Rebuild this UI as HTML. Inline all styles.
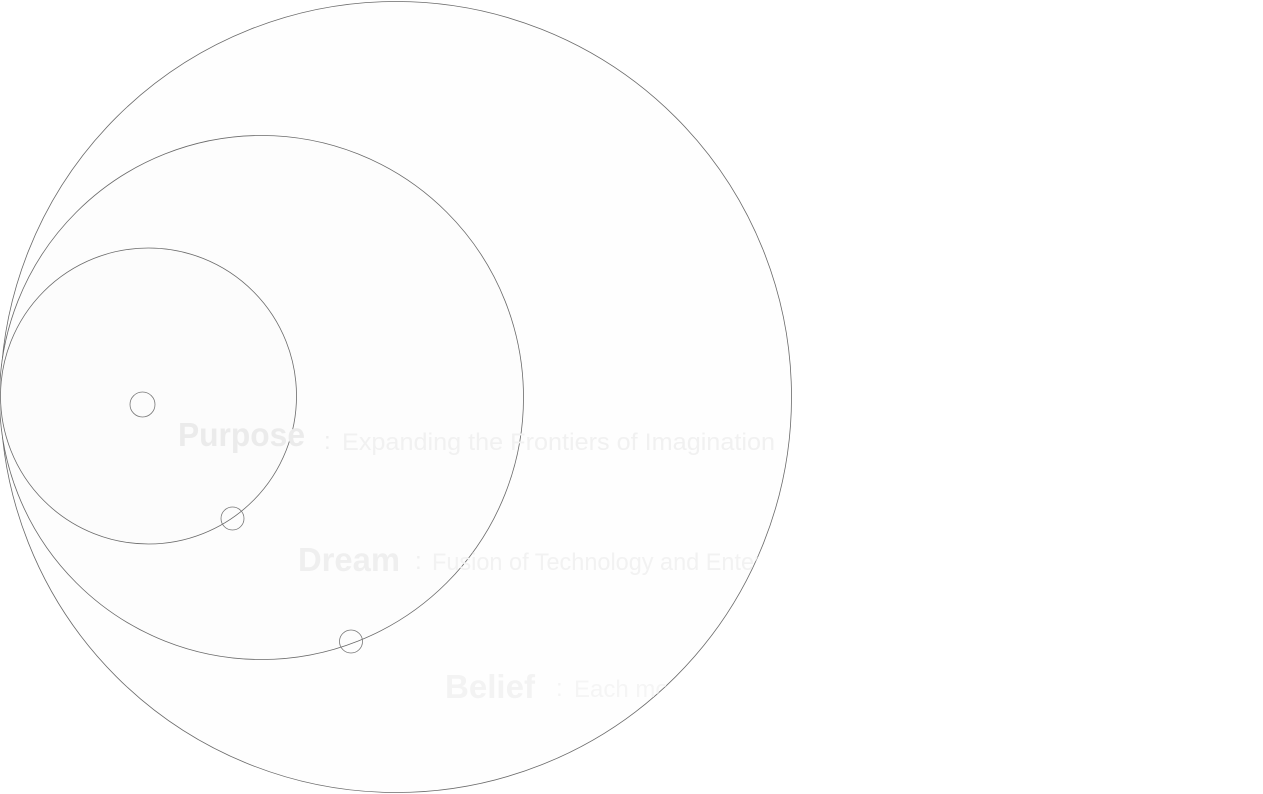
<!DOCTYPE html>
<html><head><meta charset="utf-8"><style>
html,body{margin:0;padding:0;background:#fff;width:1263px;height:794px;overflow:hidden}
svg{display:block}
</style></head><body>
<svg width="1263" height="794" viewBox="0 0 1263 794">
<defs><clipPath id="bigclip"><circle cx="396" cy="397" r="395.5"/></clipPath></defs>
<circle cx="396" cy="397" r="395.5" fill="#fefefe" stroke="#6a6a6a" stroke-width="0.8"/>
<circle cx="261.5" cy="397.5" r="262" fill="#fdfdfd" stroke="#6a6a6a" stroke-width="0.8"/>
<circle cx="148.5" cy="396" r="148" fill="#fcfcfc" stroke="#6a6a6a" stroke-width="0.8"/>
<g clip-path="url(#bigclip)" font-family="Liberation Sans, sans-serif">
<text x="178" y="446" font-size="33" font-weight="bold" fill="#ebebeb" textLength="127" lengthAdjust="spacingAndGlyphs">Purpose</text>
<text x="324" y="449" font-size="24" fill="#ededed">:</text>
<text x="342" y="450" font-size="24" fill="#f1f1f1" textLength="433" lengthAdjust="spacingAndGlyphs">Expanding the Frontiers of Imagination</text>
<text x="298" y="571" font-size="33" font-weight="bold" fill="#efefef" textLength="102" lengthAdjust="spacingAndGlyphs">Dream</text>
<text x="415" y="569" font-size="24" fill="#f0f0f0">:</text>
<text x="432" y="570" font-size="24" fill="#f2f2f2" textLength="420" lengthAdjust="spacingAndGlyphs">Fusion of Technology and Entertainment</text>
<text x="445" y="698" font-size="33" font-weight="bold" fill="#f3f3f3" textLength="90" lengthAdjust="spacingAndGlyphs">Belief</text>
<text x="556" y="696" font-size="24" fill="#f4f4f4">:</text>
<text x="574" y="697" font-size="24" fill="#f5f5f5">Each moment is special</text>
</g>
<circle cx="142.5" cy="404.5" r="12.5" fill="none" stroke="#777" stroke-width="0.8"/>
<circle cx="232.5" cy="518.5" r="11.5" fill="none" stroke="#777" stroke-width="0.8"/>
<circle cx="351" cy="641.5" r="11.5" fill="none" stroke="#777" stroke-width="0.8"/>
</svg>
</body></html>
